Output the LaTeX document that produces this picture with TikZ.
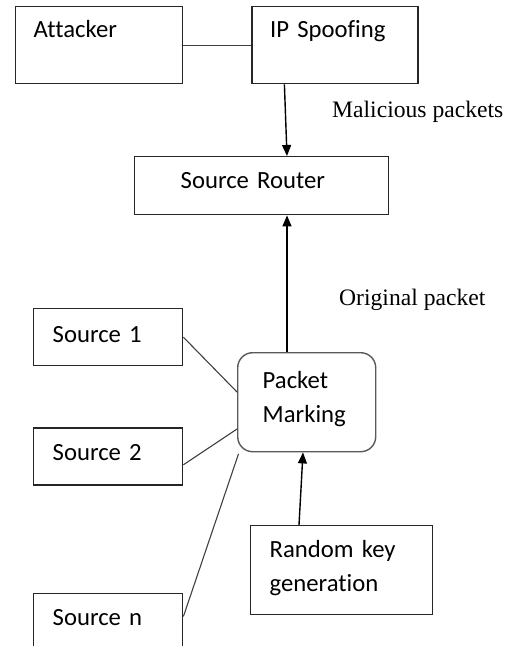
\documentclass[tikz,border=0pt]{standalone}
\usepackage{fontspec}
\setmainfont[Ligatures=NoCommon]{Carlito}
\newfontfamily\seriflabel{Liberation Serif}
\usetikzlibrary{arrows.meta, positioning}

\begin{document}
\begin{tikzpicture}[
    x=1pt, y=-1pt,
    box/.style={rectangle, draw=black!85, line width=1.4pt, anchor=north west, align=left, inner xsep=18pt, inner ysep=0pt, font=\fontsize{24.7}{34}\selectfont},
    source/.style={box, inner xsep=19pt, text width=111pt},
    marker/.style={box, draw=black!65, rounded corners=15pt, inner xsep=25pt},
    caption/.style={anchor=base west, inner sep=0pt, font=\seriflabel\fontsize{23.6}{28}\selectfont},
    arrow/.style={-{Triangle[length=11pt, width=9pt]}, line width=1.4pt},
    link/.style={line width=1.1pt, draw=black!75}
]
\useasboundingbox (0,0) rectangle (514,646);

% Nodes
\node[box, text width=131pt, text height=31pt, text depth=46pt] (attacker) at (15,6) {Attacker};
\node[box, text width=130pt, text height=31pt, text depth=46pt, right=68pt of attacker] (spoof) {IP Spoofing};
\node[box, inner xsep=46pt, text width=162pt, text height=32pt, text depth=26pt] (router) at (134,156) {Source Router};

\node[source, text height=34pt, text depth=23pt] (src1) at (33,308) {Source 1};
\node[source, text height=32pt, text depth=25pt, below=61pt of src1] (src2) {Source 2};
\node[source, text height=32pt, text depth=22pt, below=107pt of src2] (srcn) {Source n};

\node[marker, text width=88pt, text height=36pt, text depth=63pt] (marking) at (237,352) {Packet\\Marking};
\node[box, inner xsep=19pt, text width=144pt, text height=32pt, text depth=57pt] (randkey) at (250,525) {Random key\\generation};

% Labels
\node[caption] (malicious) at (332,117) {Malicious packets};
\node[caption] (original) at (339,305) {Original packet};

% Arrows
\draw[link] (attacker) -- (spoof);
\draw[arrow] ([xshift=33pt]spoof.south west) -- ([xshift=153pt]router.north west);
\draw[arrow] ([xshift=50pt]marking.north west) -- ([xshift=153pt]router.south west);
\draw[arrow] ([xshift=49pt]randkey.north west) -- ([xshift=66pt]marking.south west);

\draw[link] (src1.east) -- ([yshift=-40pt]marking.north west);
\draw[link] ([yshift=21pt]src2.south east) -- ([yshift=-77pt]marking.north west);
\coordinate (gap) at ([shift={(1.5pt,-1.5pt)}]marking.south west);
\draw[link] ([yshift=4pt]srcn.east) -- (gap);

\end{tikzpicture}
\end{document}
